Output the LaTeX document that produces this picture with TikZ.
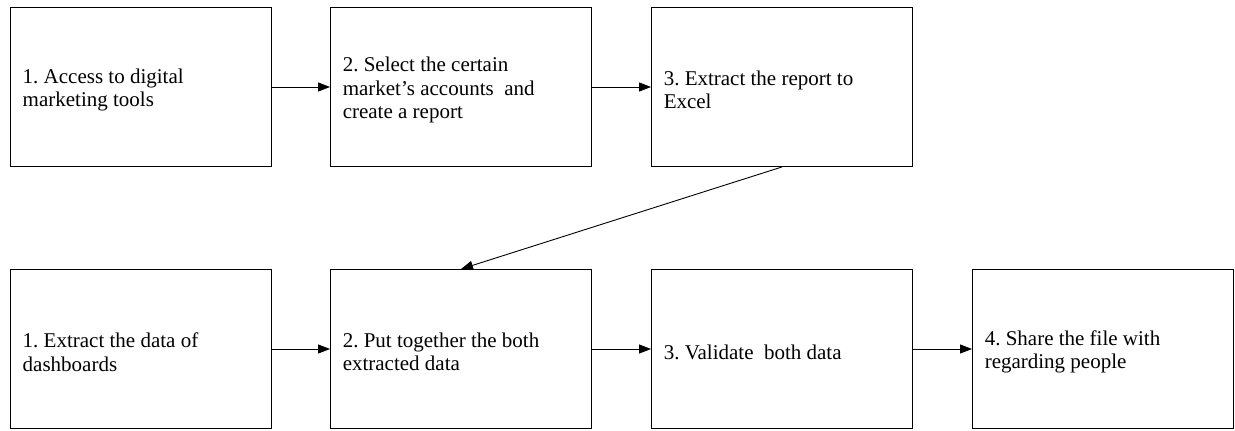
\documentclass[tikz,border=0pt]{standalone}
\usepackage{fontspec}
\setmainfont{Liberation Serif}
\usetikzlibrary{arrows.meta}
\begin{document}
\frenchspacing
\begin{tikzpicture}[x=1pt,y=-1pt,
  stepbox/.style={draw, line width=0.9pt, minimum width=261pt, minimum height=159pt, inner sep=0pt},
  steptext/.style={anchor=west, align=left, font=\fontsize{21}{23.5}\selectfont, inner sep=0pt, yshift=-3pt},
  conn/.style={-{Triangle[length=12pt,width=9pt]}, line width=0.9pt}]
\useasboundingbox (0,0) rectangle (1235,431);
\node[stepbox] (a1) at (141,87) {};
\node[stepbox] (a2) at (461,87) {};
\node[stepbox] (a3) at (782,87) {};
\node[stepbox] (b1) at (141,349) {};
\node[stepbox] (b2) at (461,349) {};
\node[stepbox] (b3) at (782,349) {};
\node[stepbox] (b4) at (1103,349) {};
\node[steptext] at ([xshift=12.5pt]a1.west) {1. Access to digital\\marketing tools};
\node[steptext] at ([xshift=12.5pt]a2.west) {2. Select the certain\\market’s accounts~ and\\create a report};
\node[steptext] at ([xshift=12.5pt]a3.west) {3. Extract the report to\\Excel};
\node[steptext] at ([xshift=12.5pt]b1.west) {1. Extract the data of\\dashboards};
\node[steptext] at ([xshift=12.5pt]b2.west) {2. Put together the both\\extracted data};
\node[steptext] at ([xshift=12.5pt]b3.west) {3. Validate~ both data};
\node[steptext] at ([xshift=12.5pt]b4.west) {4. Share the file with\\regarding people};
\draw[conn] (a1) -- (a2);
\draw[conn] (a2) -- (a3);
\draw[conn] (a3.south) -- (b2.north);
\draw[conn] (b1) -- (b2);
\draw[conn] (b2) -- (b3);
\draw[conn] (b3) -- (b4);
\end{tikzpicture}
\end{document}
